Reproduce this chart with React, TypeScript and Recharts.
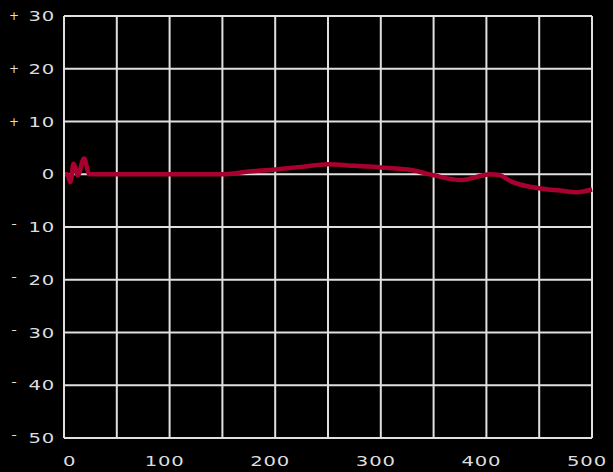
import React from "react";
import { LineChart, Line, XAxis, YAxis, CartesianGrid } from "recharts";

const freqs = [0, 3, 6, 9, 13, 19, 24, 50, 100, 150, 175, 200, 225, 250, 275, 300, 329, 350, 376, 395, 403, 411, 425, 451, 470, 486, 500];
const levels = [0, 0, -1.5, 2, -0.2, 3, 0, 0, 0, 0, 0.5, 0.9, 1.4, 1.9, 1.6, 1.3, 0.8, -0.2, -1.1, -0.3, 0, -0.1, -1.5, -2.7, -3.1, -3.4, -2.9];
const xTicks = [0, 50, 100, 150, 200, 250, 300, 350, 400, 450, 500];
const yTicks = [-50, -40, -30, -20, -10, 0, 10, 20, 30];

const data = freqs.map((f, i) => ({ f, v: levels[i] }));

const TEXT = "#dedede";
const GRID = "#e0e0e0";
const FONT = "'DejaVu Sans', sans-serif";

// wide, extended look of the original labels
function YTick(props: any) {
  const { y, payload } = props;
  const v = payload.value as number;
  return (
    <g>
      {v > 0 && (
        <text x={14} y={y + 4} textAnchor="middle" fill={TEXT} fontFamily={FONT} fontSize={12}>
          +
        </text>
      )}
      {v < 0 && (
        <text transform={`translate(14,${y + 1}) scale(1.2,1)`} textAnchor="middle" fill={TEXT} fontFamily={FONT} fontSize={13}>
          -
        </text>
      )}
      <text transform={`translate(55,${y + 5}) scale(1.4,1)`} textAnchor="end" fill={TEXT} fontFamily={FONT} fontSize={14} letterSpacing={0.6}>
        {Math.abs(v)}
      </text>
    </g>
  );
}

function XTick(props: any) {
  const { x, y, payload } = props;
  if (payload.value % 100 !== 0) return null;
  const first = payload.value === 0;
  return (
    <text transform={`translate(${first ? x - 1 : x - 5},${y + 20}) scale(1.4,1)`} textAnchor={first ? "start" : "middle"} fill={TEXT} fontFamily={FONT} fontSize={14} letterSpacing={0.6}>
      {payload.value}
    </text>
  );
}

export default function App() {
  return (
    <div style={{ position: "absolute", left: 0, top: 0, width: 613, height: 472, background: "#000" }}>
      <LineChart width={613} height={472} data={data} margin={{ top: 16, right: 21, bottom: 0, left: 0 }}>
        <CartesianGrid stroke={GRID} strokeWidth={2} />
        <XAxis
          dataKey="f"
          type="number"
          domain={[0, 500]}
          ticks={xTicks}
          interval={0}
          height={34}
          tickLine={false}
          axisLine={{ stroke: GRID, strokeWidth: 2 }}
          tick={<XTick />}
        />
        <YAxis
          type="number"
          domain={[-50, 30]}
          ticks={yTicks}
          interval={0}
          width={64}
          tickLine={false}
          axisLine={{ stroke: GRID, strokeWidth: 2 }}
          tick={<YTick />}
        />
        <Line type="monotone" dataKey="v" stroke="#a8002f" strokeWidth={4.5} dot={false} isAnimationActive={false} />
      </LineChart>
    </div>
  );
}
